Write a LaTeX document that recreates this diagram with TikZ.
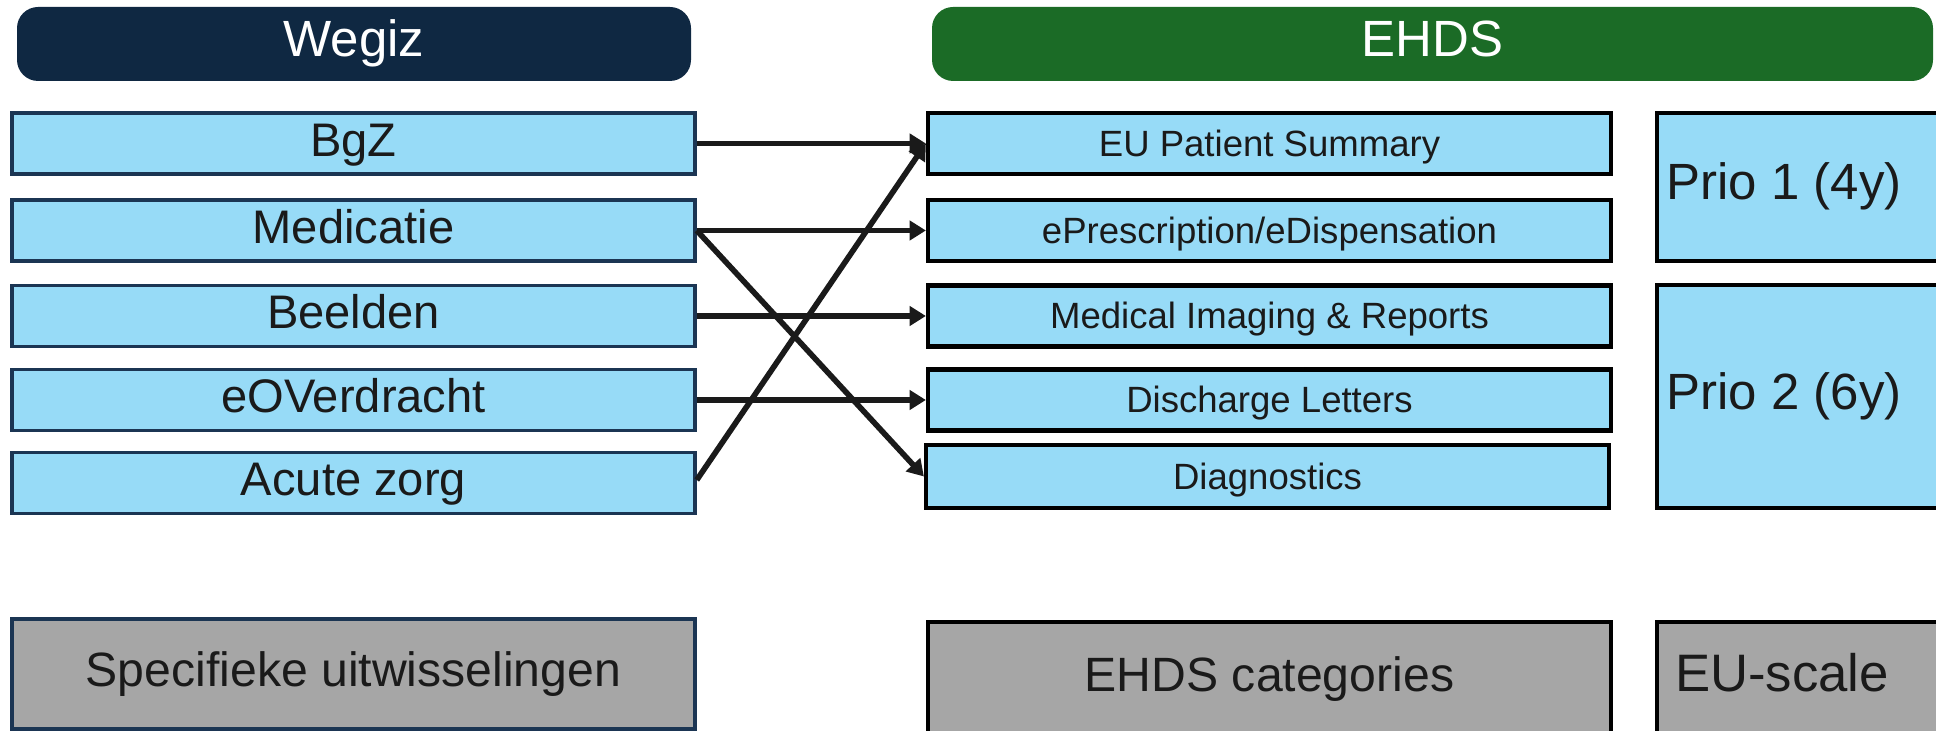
\documentclass[tikz,border=0pt]{standalone}
\usepackage{fontspec}
\setmainfont{Liberation Sans}
\usepackage{tikz}
\usepackage{xcolor}
\usetikzlibrary{arrows.meta, positioning, calc}

\definecolor{wegizblue}{HTML}{0F2842}
\definecolor{ehdsgreen}{HTML}{1B6B26}
\definecolor{boxblue}{HTML}{97DBF7}
\definecolor{boxgray}{HTML}{A6A6A6}
\definecolor{navyline}{HTML}{1B3553}
\definecolor{darktext}{HTML}{1A1A1A}

\tikzset{
  capmid/.style={text height=0.72em, text depth=0pt},
  header/.style={capmid, rounded corners=6pt, inner sep=0pt, minimum height=7.4mm, text=white,
    font=\fontsize{14.5}{17}\selectfont},
  wegizbox/.style={capmid, draw=navyline, line width=1pt, fill=boxblue, inner sep=0pt,
    minimum width=68.3mm, minimum height=6.1mm, text=darktext, font=\fontsize{13.4}{16}\selectfont},
  ehdsbox/.style={capmid, draw=black, line width=1.2pt, fill=boxblue, inner sep=0pt,
    minimum width=68.3mm, minimum height=6.1mm, text=darktext, font=\fontsize{10.4}{13}\selectfont},
  priobox/.style={draw=black, line width=1.2pt, fill=boxblue, inner sep=0pt,
    minimum width=28.8mm},
  priotext/.style={capmid, xshift=-1.7mm, text=darktext, font=\fontsize{14.5}{17}\selectfont},
  footbox/.style={capmid, line width=1.2pt, fill=boxgray, inner sep=0pt,
    text=darktext, font=\fontsize{13.7}{16}\selectfont},
  link/.style={line width=1.6pt, draw=darktext, -{Triangle[length=4.6pt,width=5.4pt]}}
}

\begin{document}
\begin{tikzpicture}[x=0.1mm, y=-0.1mm]
\useasboundingbox (0,0) rectangle (1936,731);

% headers
\node[header, fill=wegizblue, minimum width=67.4mm] (wegiz) at (354,44) {Wegiz};
\node[header, fill=ehdsgreen, minimum width=100.1mm] (ehds) at (1432.5,44) {EHDS};

% Wegiz exchanges
\node[wegizbox] (bgz) at (353.5,143.5) {BgZ};
\node[wegizbox] (med) at (353.5,230.5) {Medicatie};
\node[wegizbox] (beeld) at (353.5,316) {Beelden};
\node[wegizbox] (eov) at (353.5,400) {eOVerdracht};
\node[wegizbox] (acute) at (353.5,483) {Acute zorg};

% EHDS categories
\node[ehdsbox] (eups) at (1269.5,143.5) {EU Patient Summary};
\node[ehdsbox] (epres) at (1269.5,230.5) {ePrescription/eDispensation};
\node[ehdsbox] (img) at (1269.5,316) {Medical Imaging \& Reports};
\node[ehdsbox] (dis) at (1269.5,400) {Discharge Letters};
\node[ehdsbox, minimum height=6.3mm] (diag) at (1267.5,476.5) {Diagnostics};

% priorities (run past the right edge)
\node[priobox, minimum height=14.8mm, label={[priotext]center:Prio 1 (4y)}] (prio1) at (1801,187) {};
\node[priobox, minimum height=22.3mm, label={[priotext]center:Prio 2 (6y)}] (prio2) at (1801,396.5) {};

% bottom row
\node[footbox, draw=navyline, minimum width=68.3mm, minimum height=11mm] (spec) at (353.5,674) {Specifieke uitwisselingen};
\node[footbox, draw=black, minimum width=68.3mm, minimum height=11.3mm] (cats) at (1269.5,678.5) {EHDS categories};
\node[footbox, draw=black, minimum width=28.8mm, minimum height=11.3mm,
  label={[priotext, xshift=-0.2mm, font=\fontsize{15}{17}\selectfont]center:EU-scale}] (euscale) at (1801,678.5) {};

% mapping
\draw[link] (bgz.east) -- (eups.west);
\draw[link] (med.east) -- (epres.west);
\draw[link] (med.east) -- (diag.west);
\draw[link] (beeld.east) -- (img.west);
\draw[link] (eov.east) -- (dis.west);
\draw[link] ($(acute.east)+(0,-3)$) -- (eups.west);
\end{tikzpicture}
\end{document}
